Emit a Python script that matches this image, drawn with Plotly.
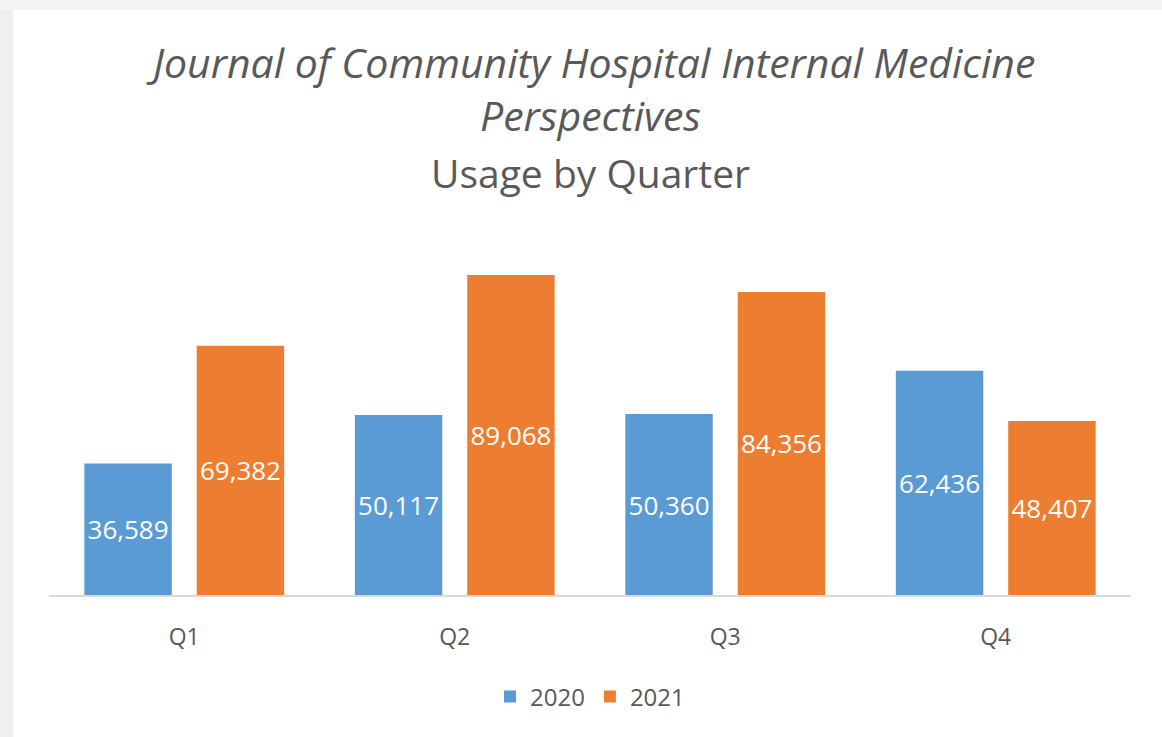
import plotly.graph_objects as go

quarters = ["Q1", "Q2", "Q3", "Q4"]
usage_2020 = [36589, 50117, 50360, 62436]
usage_2021 = [69382, 89068, 84356, 48407]
series_names = ["2020", "2021"]
colors = ["#5B9BD5", "#ED7D31"]

FONT = "Open Sans"
GRAY = "#595959"

fig = go.Figure()
for name, vals, col in zip(series_names, [usage_2020, usage_2021], colors):
    fig.add_trace(go.Bar(
        x=quarters, y=vals, name=name,
        marker=dict(color=col, line=dict(width=0)),
        text=[f"{v:,}" for v in vals],
        textposition="inside", insidetextanchor="middle", textangle=0,
        textfont=dict(family=FONT, size=26, color="white"),
        hoverinfo="x+y+name",
    ))

H_PLOT = 355
W_PLOT = 1082
fig.update_layout(
    width=1162, height=737,
    margin=dict(l=49, r=31, t=240, b=142),
    paper_bgcolor="white", plot_bgcolor="white",
    barmode="group", bargap=0.169, bargroupgap=0.222,
    uniformtext=dict(mode="show", minsize=26),
    showlegend=True,
    legend=dict(orientation="h", x=0.5, xanchor="center", y=(595 - 697) / H_PLOT,
                yanchor="middle", font=dict(family=FONT, size=24, color=GRAY),
                itemwidth=30, traceorder="normal"),
    xaxis=dict(showline=True, linecolor="#D9D9D9", linewidth=2, showgrid=False,
               ticks="", tickfont=dict(family=FONT, size=23, color=GRAY),
               ticklabelstandoff=20, zeroline=False),
    yaxis=dict(visible=False, range=[0, H_PLOT / 0.003593], showgrid=False, zeroline=False),
    font=dict(family=FONT, color=GRAY),
)

title_lines = [
    ("<i>Journal of Community Hospital Internal Medicine</i>", 62, 41),
    ("<i>Perspectives</i>", 115, 41),
    ("Usage by Quarter", 172, 39),
]
for txt, py, sz in title_lines:
    fig.add_annotation(text=txt, xref="paper", yref="paper", x=0.5, y=(595 - py) / H_PLOT,
                       xanchor="center", yanchor="middle", showarrow=False,
                       font=dict(family=FONT, size=sz, color=GRAY))

# screenshot border bands
fig.add_shape(type="rect", xref="paper", yref="paper", x0=-49 / W_PLOT, x1=-36 / W_PLOT,
              y0=-142 / H_PLOT, y1=595 / H_PLOT, fillcolor="#EFEFEF", line=dict(width=0), layer="below")
fig.add_shape(type="rect", xref="paper", yref="paper", x0=-49 / W_PLOT, x1=1113 / W_PLOT,
              y0=(595 - 10) / H_PLOT, y1=595 / H_PLOT, fillcolor="#F4F4F4", line=dict(width=0), layer="below")

fig.write_html("out.html", config={"displayModeBar": False},
               post_script="document.body.style.margin='0';document.body.style.overflow='hidden';")
